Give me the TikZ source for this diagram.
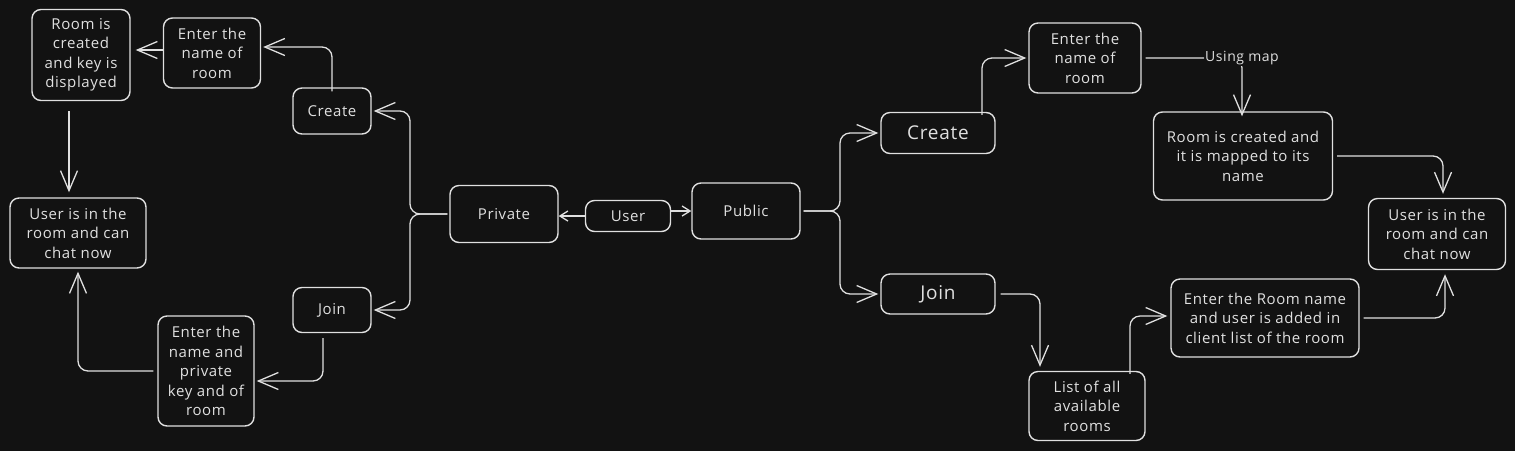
\documentclass[tikz,border=0pt]{standalone}
\usepackage{fontspec}
\setmainfont{Open Sans}[LetterSpace=4]
\usetikzlibrary{arrows.meta}
\definecolor{bg}{HTML}{121212}
\definecolor{fg}{HTML}{E0E0E0}
\newcommand{\fsn}{\fontsize{15}{19.5}\selectfont}
\newcommand{\fsb}{\fontsize{19}{22}\selectfont}
\newcommand{\fsl}{\fontsize{14}{16}\selectfont}
\tikzset{
  box/.style={draw=fg, line width=1.4pt, rounded corners=9pt, align=center, text=fg, font=\fsn, inner sep=1pt},
  arr/.style={draw=fg, line width=1.3pt, rounded corners=10pt, -{Straight Barb[length=20pt,width=17pt,line width=1.3pt]}},
  sarr/.style={draw=fg, line width=1.3pt, -{Straight Barb[length=8pt,width=10pt,line width=1.3pt]}},
  lbl/.style={fill=bg, text=fg, font=\fsl, inner sep=1pt}
}
\begin{document}
\begin{tikzpicture}[x=1pt,y=-1pt]
\fill[bg] (0,0) rectangle (1515,451);
\useasboundingbox (0,0) rectangle (1515,451);
% left side
\node[box, minimum width=98pt, minimum height=91pt] (rc) at (81,55) {Room is\\created\\and key is\\displayed};
\node[box, minimum width=97pt, minimum height=70pt] (lenter) at (212,53) {Enter the\\name of\\room};
\node[box, minimum width=78pt, minimum height=46pt] (lcreate) at (332,111) {Create};
\node[box, minimum width=136pt, minimum height=70pt] (luser) at (78,233) {User is in the\\room and can\\chat now};
\node[box, minimum width=78pt, minimum height=45pt] (ljoin) at (332,310) {Join};
\node[box, minimum width=96pt, minimum height=110pt] (lkey) at (206,371) {Enter the\\name and\\private\\key and of\\room};
\node[box, minimum width=108pt, minimum height=57pt] (priv) at (504,214) {Private};
\node[box, minimum width=85pt, minimum height=31pt] (user) at (628,216) {User};
\node[box, minimum width=108pt, minimum height=56pt] (pub) at (746,211) {Public};
% right side
\node[box, font=\fsb, minimum width=114pt, minimum height=41pt] (rcreate) at (938,133) {Create};
\node[box, minimum width=112pt, minimum height=70pt] (renter) at (1085,58) {Enter the\\name of\\room};
\node[box, minimum width=179pt, minimum height=88pt] (rroom) at (1243,156) {Room is created and\\it is mapped to its\\name};
\node[box, minimum width=137pt, minimum height=71pt] (ruser) at (1437,234) {User is in the\\room and can\\chat now};
\node[box, font=\fsb, minimum width=114pt, minimum height=40pt] (rjoin) at (938,294) {Join};
\node[box, minimum width=116pt, minimum height=69pt] (list) at (1087,406) {List of all\\available\\rooms};
\node[box, minimum width=188pt, minimum height=78pt] (rname) at (1265,318) {Enter the Room name\\and user is added in\\client list of the room};
% junction coordinates
\coordinate (pj) at (410,214);
\coordinate (uj) at (840,211);
% connectors center
\draw[sarr] (user.west) -- (priv.east |- user.west);
\draw[sarr] (user.east |- pub.west) -- (pub.west);
% private branch
\draw[arr] ([xshift=-2pt]priv.west) -- (pj) |- ([xshift=2pt]lcreate.east);
\draw[arr] ([xshift=-2pt]priv.west) -- (pj) |- ([xshift=2pt]ljoin.east);
\draw[arr] ([yshift=-4pt]lcreate.north) |- ([xshift=2pt,yshift=6pt]lenter.east);
\draw[arr, shorten >=5pt] ([yshift=3pt]lenter.west) -- ([yshift=3pt]lenter.west -| rc.east);
\draw[arr, shorten >=5pt] ([xshift=-12pt,yshift=-10pt]rc.south) -- ([xshift=-12pt]rc.south |- luser.north);
\draw[arr] ([xshift=-9pt,yshift=-5pt]ljoin.south) |- ([xshift=2pt,yshift=-10pt]lkey.east);
\draw[arr, shorten >=3pt] ([xshift=-4pt]lkey.west) -| (luser.south);
% public branch
\draw[arr] ([xshift=3pt]pub.east) -- (uj) |- ([xshift=-2pt]rcreate.west);
\draw[arr] ([xshift=3pt]pub.east) -- (uj) |- ([xshift=-2pt]rjoin.west);
\draw[arr] ([xshift=44pt,yshift=-3pt]rcreate.north) |- ([xshift=-2pt]renter.west);
\draw[arr] ([xshift=4pt]renter.east) -| ([xshift=-1pt,yshift=-5pt]rroom.north) node[lbl] at ([xshift=-1pt]rroom.north |- renter.east) {Using map};
\draw[arr, shorten >=4pt] ([xshift=4pt]rroom.east) -| ([xshift=6pt]ruser.north);
\draw[arr, shorten >=4pt] ([xshift=5pt]rjoin.east) -| ([xshift=-47pt]list.north);
\draw[arr] ([xshift=43pt,yshift=-3pt]list.north) |- ([xshift=-3pt,yshift=2pt]rname.west);
\draw[arr, shorten >=4pt] ([xshift=4pt]rname.east) -| ([xshift=8pt]ruser.south);
\end{tikzpicture}
\end{document}
